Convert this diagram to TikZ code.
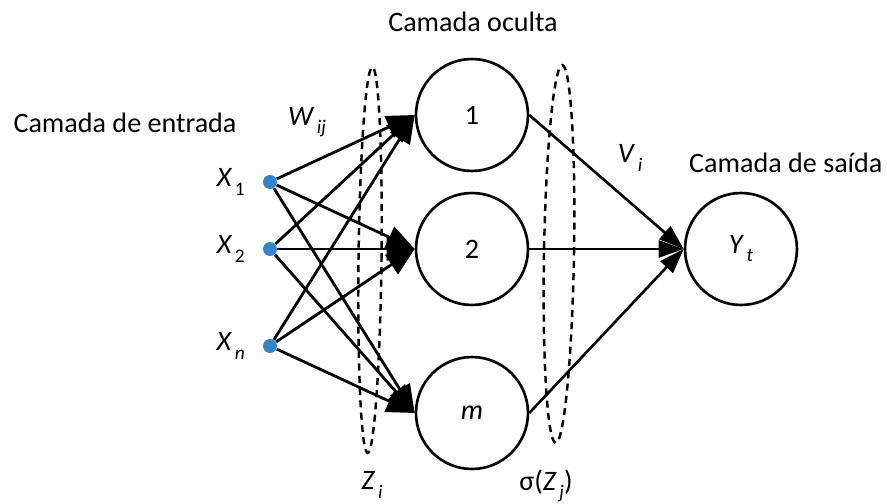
\documentclass[tikz,border=0pt]{standalone}
\usepackage{fontspec}
\setmainfont{Carlito}
\usepackage{tikz}
\usetikzlibrary{shapes,arrows.meta,positioning,calc}
\definecolor{inputblue}{RGB}{52, 132, 200}
\newcommand{\lsub}[1]{\kern1.5pt\raisebox{-0.6ex}{\fontsize{11}{13}\selectfont #1}}

\begin{document}
\begin{tikzpicture}[x=0.02cm, y=-0.02cm,
    neuron/.style={circle, draw, line width=1.5pt, minimum size=2.24cm, inner sep=0pt, font=\fontsize{16}{19}\selectfont},
    inputdot/.style={circle, fill=inputblue, minimum size=0.28cm, inner sep=0pt},
    layer/.style={font=\fontsize{16}{19}\selectfont},
    lbl/.style={font=\fontsize{16}{19}\selectfont, inner sep=1pt},
    sumzone/.style={ellipse, draw, line width=1.4pt, dash pattern=on 4pt off 3pt, inner sep=0pt},
    arrow/.style={line width=1.6pt, -{Triangle[length=0.56cm, width=0.46cm]}},
    outarrow/.style={line width=1.5pt, -{Triangle[length=0.5cm, width=0.34cm]}}
]
    \useasboundingbox (0,0) rectangle (887,504);

    % layer titles
    \node[layer] (tin) at (125,123) {Camada de entrada};
    \node[layer] (thid) at (473,22) {Camada oculta};
    \node[layer, anchor=west] (tout) at (683,163) {Camada de saída};

    % summation zones
    \node[sumzone, minimum width=0.46cm, minimum height=7.72cm, rotate=-0.7] (zi) at (370,260) {};
    \node[sumzone, minimum width=0.6cm, minimum height=7.56cm, rotate=-1] (sz) at (559,254) {};

    % inputs
    \node[inputdot] (x1) at (270,182) {};
    \node[inputdot] (x2) at (270,249) {};
    \node[inputdot] (xn) at (270,346) {};
    \node[lbl, left=9pt of x1] {\textit{X}\lsub{1}};
    \node[lbl, left=9pt of x2] {\textit{X}\lsub{2}};
    \node[lbl, left=9pt of xn] {\textit{X}\lsub{\textit{n}}};

    % hidden and output neurons
    \node[neuron] (h1) at (472,115) {1};
    \node[neuron] (h2) at (472,249) {2};
    \node[neuron] (hm) at (472,413) {\textit{m}};
    \node[neuron] (y) at (741,249) {\textit{Y}\lsub{\textit{t}}};

    % weights
    \draw[arrow] (x1) -- (h1.west);
    \draw[arrow] (x1) -- (h2.west);
    \draw[arrow] (x1) -- (hm.west);
    \draw[arrow] (x2) -- (h1.west);
    \draw[arrow] (x2) -- (h2.west);
    \draw[arrow] (x2) -- (hm.west);
    \draw[arrow] (xn) -- (h1.west);
    \draw[arrow] (xn) -- (h2.west);
    \draw[arrow] (xn) -- (hm.west);

    \draw[outarrow] (h1.east) -- (y.west);
    \draw[outarrow] (h2.east) -- (y.west);
    \draw[outarrow] (hm.east) -- (y.west);

    % labels
    \node[lbl] (wij) at (307,122) {\textit{W}\lsub{\textit{ij}}};
    \node[lbl] (vi) at (630,158) {\textit{V}\lsub{\textit{i}}};
    \node[lbl] (zlab) at (372,485) {\textit{Z}\lsub{\textit{i}}};
    \node[lbl] (slab) at (546,486) {σ(\textit{Z}\lsub{\textit{j}})};
\end{tikzpicture}
\end{document}
